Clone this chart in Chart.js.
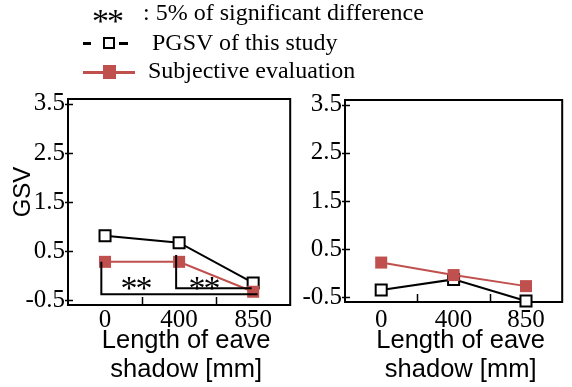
<!DOCTYPE html>
<html><head><meta charset="utf-8">
<script src="https://cdn.jsdelivr.net/npm/chart.js@4/dist/chart.umd.min.js"></script>
<style>
html,body{margin:0;padding:0;background:#fff;width:572px;height:387px;overflow:hidden;}
canvas{position:absolute;top:0;}
#c1{left:0;}
#c2{left:300px;}
.lg{position:absolute;font-family:'Liberation Serif','Times New Roman',serif;font-size:24px;line-height:28px;white-space:nowrap;color:#000;}
.star{position:absolute;font-family:'Liberation Serif','Times New Roman',serif;font-size:34px;letter-spacing:-2px;line-height:28px;white-space:nowrap;color:#000;}
.sym{position:absolute;box-sizing:border-box;}
</style></head><body>
<canvas id="c1" width="300" height="387"></canvas>
<canvas id="c2" width="272" height="387"></canvas>

<div class="star" style="left:92px;top:7px;">**</div>
<div class="lg" style="left:143px;top:-2px;">: 5% of significant difference</div>

<div class="sym" style="left:83px;top:41.5px;width:8px;height:3px;background:#000;"></div>
<div class="sym" style="left:103px;top:37px;width:12px;height:12px;border:2px solid #000;background:#fff;"></div>
<div class="sym" style="left:119px;top:41.5px;width:9px;height:3px;background:#000;"></div>
<div class="lg" style="left:152px;top:28px;">PGSV of this study</div>

<div class="sym" style="left:83px;top:70.5px;width:52px;height:3px;background:#c0504d;"></div>
<div class="sym" style="left:103px;top:65px;width:13px;height:14px;background:#c0504d;"></div>
<div class="lg" style="left:148px;top:56px;">Subjective evaluation</div>

<script>
// ---- data ----
const categories = ['0', '400', '850'];
const yTickValues = [-0.5, 0.5, 1.5, 2.5, 3.5];
const yMin = -0.6, yMax = 3.6;
const leftPGSV = [0.81, 0.67, -0.15];
const leftSubjective = [0.28, 0.28, -0.33];
const rightPGSV = [-0.35, -0.13, -0.58];
const rightSubjective = [0.22, -0.04, -0.27];
// significance brackets in data units: [category index, value]
const bracketA = [[-0.05, 0.28], [-0.05, -0.38], [2.06, -0.38]];
const bracketB = [[0.96, 0.42], [0.96, -0.26], [1.98, -0.26]];
const starMarks = [[0.41, -0.125], [1.33, -0.125]];
const starText = '**';
const xTitle = ['  Length of eave', '  shadow [mm]'];
const yTitle = '   GSV';

const RED = '#c0504d';
const SERIF = "'Liberation Serif','Times New Roman',serif";
const SANS = "'Liberation Sans',Arial,sans-serif";

const framePlugin = {
  id: 'frame',
  beforeDatasetsDraw(chart) {
    const {ctx, chartArea: {left, right, top, bottom}, scales: {x, y}} = chart;
    ctx.save();
    ctx.strokeStyle = '#000';
    ctx.lineWidth = 2;
    ctx.strokeRect(left, top, right - left, bottom - top);
    ctx.lineWidth = 1.5;
    ctx.beginPath();
    for (let i = 0; i < categories.length - 1; i++) {
      const px = Math.round((x.getPixelForValue(i) + x.getPixelForValue(i + 1)) / 2) + 0.5;
      ctx.moveTo(px, bottom);
      ctx.lineTo(px, bottom - 8);
    }
    yTickValues.forEach(v => {
      const py = Math.round(y.getPixelForValue(v)) + 0.5;
      ctx.moveTo(left - 3, py);
      ctx.lineTo(left + 5, py);
    });
    ctx.stroke();
    ctx.restore();
  }
};

const sigPlugin = {
  id: 'sig',
  afterDatasetsDraw(chart) {
    const {ctx, scales: {x, y}} = chart;
    ctx.save();
    ctx.strokeStyle = '#000';
    ctx.lineWidth = 2;
    [bracketA, bracketB].forEach(b => {
      ctx.beginPath();
      b.forEach(([cx, cy], i) => {
        const px = x.getPixelForValue(cx), py = y.getPixelForValue(cy);
        if (i === 0) ctx.moveTo(px, py); else ctx.lineTo(px, py);
      });
      ctx.stroke();
    });
    ctx.fillStyle = '#000';
    ctx.font = '34px ' + SERIF;
    try { ctx.letterSpacing = '-2px'; } catch (e) {}
    ctx.textAlign = 'center';
    ctx.textBaseline = 'alphabetic';
    starMarks.forEach(([cx, cy]) => {
      ctx.fillText(starText, x.getPixelForValue(cx), y.getPixelForValue(cy) + 17);
    });
    ctx.restore();
  }
};

function makeChart(canvas, pgsv, subj, o) {
  return new Chart(canvas, {
    type: 'line',
    data: {
      labels: categories,
      datasets: [
        {label: 'Subjective evaluation', data: subj, borderColor: RED, backgroundColor: RED,
         borderWidth: 2, pointStyle: 'rect', pointRadius: 8.5, pointBorderWidth: 0,
         pointBackgroundColor: RED, pointBorderColor: RED, order: 0, clip: false, tension: 0},
        {label: 'PGSV of this study', data: pgsv, borderColor: '#000', backgroundColor: '#fff',
         borderWidth: 2, pointStyle: 'rect', pointRadius: 7.8, pointBorderWidth: 2,
         pointBackgroundColor: '#fff', pointBorderColor: '#000', order: 1, clip: false, tension: 0}
      ]
    },
    options: {
      responsive: false, animation: false, devicePixelRatio: 1,
      layout: {padding: {left: 0, right: o.padRight, top: o.padTop, bottom: 0}},
      plugins: {legend: {display: false}, tooltip: {enabled: false}},
      scales: {
        x: {
          type: 'category', offset: true,
          grid: {display: false, drawTicks: false}, border: {display: false},
          ticks: {font: {family: SERIF, size: 25}, color: '#000', padding: o.xTickPad, maxRotation: 0, autoSkip: false},
          title: {display: true, text: xTitle, color: '#000',
                  font: {family: SANS, size: 25.5, lineHeight: 1.12}, padding: {top: 0, bottom: 3}},
          afterFit(s) { s.height = o.xHeight; }
        },
        y: {
          min: yMin, max: yMax,
          grid: {display: false, drawTicks: false}, border: {display: false},
          afterBuildTicks(s) { s.ticks = yTickValues.map(v => ({value: v})); },
          ticks: {font: {family: SERIF, size: 25}, color: '#000', padding: 3, callback: v => Number(v).toFixed(1)},
          title: o.showYTitle ? {display: true, text: yTitle, color: '#000',
                  font: {family: SANS, size: 24, lineHeight: 1.2}, padding: {top: 8.6, bottom: 0}} : {display: false},
          afterFit(s) { s.width = o.yWidth; }
        }
      }
    },
    plugins: o.sig ? [framePlugin, sigPlugin] : [framePlugin]
  });
}

makeChart(document.getElementById('c1'), leftPGSV, leftSubjective,
  {padRight: 5, padTop: 99, xHeight: 82, yWidth: 68, xTickPad: 0, showYTitle: true, sig: true});
makeChart(document.getElementById('c2'), rightPGSV, rightSubjective,
  {padRight: 4, padTop: 100, xHeight: 85, yWidth: 45, xTickPad: 3, showYTitle: false, sig: false});
</script>
</body></html>
